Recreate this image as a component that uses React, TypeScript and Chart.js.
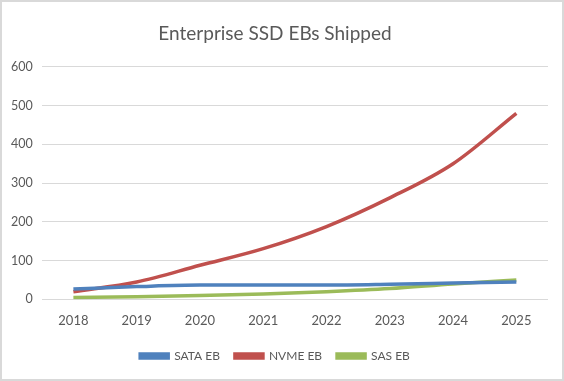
import React, { useEffect, useRef } from "react";
import { Chart, registerables } from "chart.js";

Chart.register(...registerables);

const years = ["2018", "2019", "2020", "2021", "2022", "2023", "2024", "2025"];
const sataEB = [27, 33, 37, 37, 37, 39, 42, 45];
const nvmeEB = [20, 45, 88, 131, 188, 262, 350, 480];
const sasEB = [5, 7, 10, 14, 20, 28, 40, 50];

const FONT = "Lato, 'Open Sans', sans-serif";

export default function App() {
  const ref = useRef<HTMLCanvasElement | null>(null);
  useEffect(() => {
    document.body.style.margin = "0";
    const mk = (label: string, data: number[], color: string) => ({
      label,
      data,
      borderColor: color,
      backgroundColor: color,
      borderWidth: 3.5,
      pointRadius: 0,
      tension: 0.4,
      cubicInterpolationMode: "monotone" as const,
    });
    const chart = new Chart(ref.current!, {
      type: "line",
      data: {
        labels: years,
        datasets: [
          mk("SATA EB", sataEB, "#4F81BD"),
          mk("NVME EB", nvmeEB, "#C0504D"),
          mk("SAS EB", sasEB, "#9BBB59"),
        ],
      },
      options: {
        animation: false,
        responsive: false,
        layout: { padding: { left: 0, right: 14, top: 12, bottom: 7 } },
        plugins: {
          title: {
            display: true,
            text: "Enterprise SSD EBs Shipped",
            color: "#595959",
            font: { family: FONT, size: 19, weight: "normal" },
            padding: { top: 8, bottom: 22 },
          },
          legend: {
            position: "bottom",
            labels: {
              color: "#595959",
              font: { family: FONT, size: 12 },
              boxWidth: 28,
              boxHeight: 4,
              padding: 15,
            },
          },
          tooltip: { enabled: false },
        },
        scales: {
          x: {
            offset: true,
            grid: { display: false },
            border: { display: false },
            ticks: { color: "#595959", font: { family: FONT, size: 13 }, padding: 6 },
          },
          y: {
            min: 0,
            max: 600,
            ticks: { stepSize: 100, color: "#595959", font: { family: FONT, size: 12.5 }, padding: 9 },
            grid: { color: "#d9d9d9", drawTicks: false },
            border: { display: false },
          },
        },
      },
    });
    return () => chart.destroy();
  }, []);
  return (
    <div style={{ width: 564, height: 381, boxSizing: "border-box", border: "2px solid #d9d9d9", background: "#fff" }}>
      <canvas ref={ref} width={560} height={377} />
    </div>
  );
}
